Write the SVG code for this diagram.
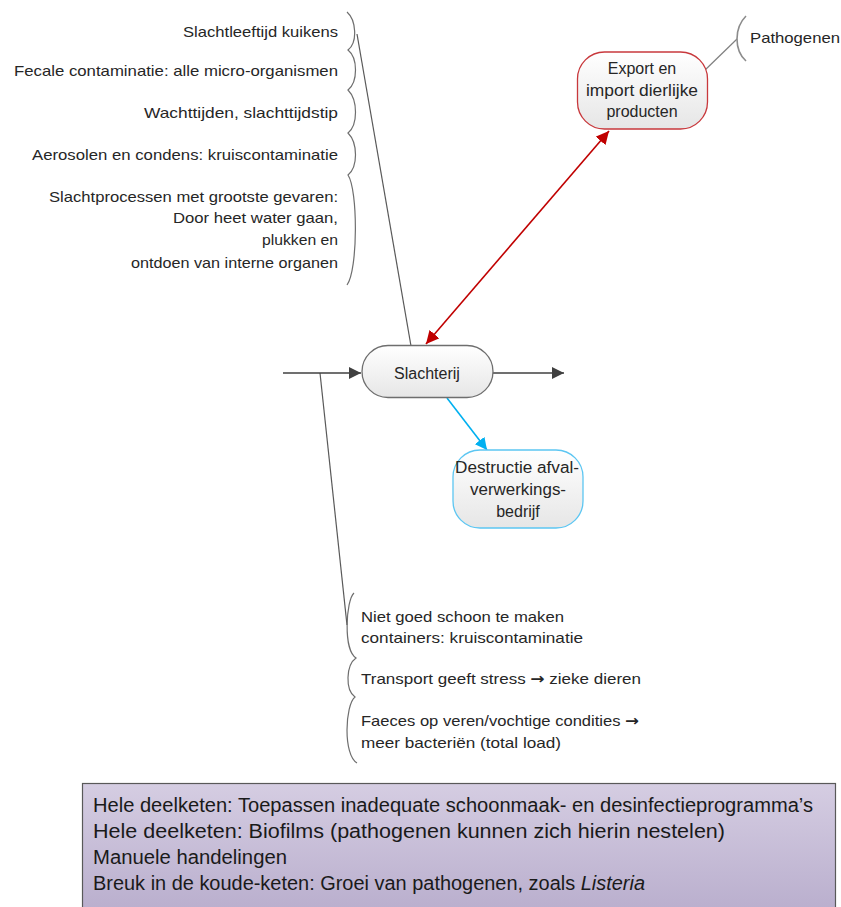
<svg xmlns="http://www.w3.org/2000/svg" width="841" height="907" viewBox="0 0 841 907">
  <defs>
    <linearGradient id="nodeFill" x1="0" y1="0" x2="0" y2="1">
      <stop offset="0" stop-color="#ffffff"/>
      <stop offset="1" stop-color="#e6e6e6"/>
    </linearGradient>
    <linearGradient id="boxFill" x1="0" y1="0" x2="0" y2="1">
      <stop offset="0" stop-color="#d5cde2"/>
      <stop offset="1" stop-color="#b9aecd"/>
    </linearGradient>
    <marker id="arrGray" viewBox="0 0 10 10" refX="10" refY="5" markerWidth="12" markerHeight="12" markerUnits="userSpaceOnUse" orient="auto">
      <path d="M0,0 L10,5 L0,10 Z" fill="#404040"/>
    </marker>
    <marker id="arrRed" viewBox="0 0 10 10" refX="10" refY="5" markerWidth="13" markerHeight="13" markerUnits="userSpaceOnUse" orient="auto-start-reverse">
      <path d="M0,0 L10,5 L0,10 Z" fill="#c00000"/>
    </marker>
    <marker id="arrBlue" viewBox="0 0 10 10" refX="10" refY="5" markerWidth="12" markerHeight="12" markerUnits="userSpaceOnUse" orient="auto">
      <path d="M0,0 L10,5 L0,10 Z" fill="#00b0f0"/>
    </marker>
  </defs>
  <style>
    text { font-family: "Liberation Sans", Arial, sans-serif; fill: #262626; }
    .lbl { font-size: 15px; }
    .node { font-size: 16px; text-anchor: middle; }
    .box { font-size: 19.5px; fill: #1a1a1a; }
    .arw { font-family: "DejaVu Sans", sans-serif; font-weight: bold; }
    .brace { fill: none; stroke: #6e6e6e; stroke-width: 1.2; }
    .link { fill: none; stroke: #595959; stroke-width: 1.2; }
  </style>

  <rect width="841" height="907" fill="#ffffff"/>

  <!-- connectors -->
  <g id="connectors">
    <line class="link" x1="357" y1="34" x2="411" y2="346"/>
    <line class="link" x1="320" y1="373" x2="347" y2="625"/>
    <line x1="703" y1="72" x2="737" y2="39" stroke="#7f7f7f" stroke-width="1.2"/>
    <line x1="283" y1="373" x2="361" y2="373" stroke="#404040" stroke-width="1.6" marker-end="url(#arrGray)"/>
    <line x1="493" y1="373" x2="564" y2="373" stroke="#404040" stroke-width="1.6" marker-end="url(#arrGray)"/>
    <line x1="609" y1="131" x2="426" y2="344" stroke="#c00000" stroke-width="1.6" marker-start="url(#arrRed)" marker-end="url(#arrRed)"/>
    <line x1="447" y1="398" x2="487" y2="450" stroke="#00b0f0" stroke-width="1.6" marker-end="url(#arrBlue)"/>
  </g>

  <!-- risk factors above the slaughterhouse -->
  <g id="risks-top">
    <path class="brace" d="M347,12 C356,20 358,42 348,50 C358,58 358,82 348,90 C358,100 358,125 348,133 C358,143 358,167 348,175 C358,190 358,270 347,285"/>
    <g class="lbl" text-anchor="end">
      <text x="338" y="37" textLength="155" lengthAdjust="spacingAndGlyphs">Slachtleeftijd kuikens</text>
      <text x="338" y="76" textLength="324" lengthAdjust="spacingAndGlyphs">Fecale contaminatie: alle micro-organismen</text>
      <text x="338" y="118" textLength="194" lengthAdjust="spacingAndGlyphs">Wachttijden, slachttijdstip</text>
      <text x="338" y="160" textLength="306" lengthAdjust="spacingAndGlyphs">Aerosolen en condens: kruiscontaminatie</text>
      <text x="338" y="202" textLength="289" lengthAdjust="spacingAndGlyphs">Slachtprocessen met grootste gevaren:</text>
      <text x="338" y="223" textLength="165" lengthAdjust="spacingAndGlyphs">Door heet water gaan,</text>
      <text x="338" y="245" textLength="76" lengthAdjust="spacingAndGlyphs">plukken en</text>
      <text x="338" y="268" textLength="207" lengthAdjust="spacingAndGlyphs">ontdoen van interne organen</text>
    </g>
  </g>

  <!-- risk factors on the incoming transport -->
  <g id="risks-transport">
    <path class="brace" d="M354,593 C346,600 343,650 356,658 C346,665 345,690 355,697 C345,705 343,755 357,763"/>
    <g class="lbl">
      <text x="361" y="622" textLength="203" lengthAdjust="spacingAndGlyphs">Niet goed schoon te maken</text>
      <text x="361" y="643" textLength="222" lengthAdjust="spacingAndGlyphs">containers: kruiscontaminatie</text>
      <text x="361" y="684" textLength="280" lengthAdjust="spacingAndGlyphs">Transport geeft stress <tspan class="arw">→</tspan> zieke dieren</text>
      <text x="361" y="726" textLength="278" lengthAdjust="spacingAndGlyphs">Faeces op veren/vochtige condities <tspan class="arw">→</tspan></text>
      <text x="361" y="748" textLength="200" lengthAdjust="spacingAndGlyphs">meer bacteriën (total load)</text>
    </g>
  </g>

  <g id="pathogenen">
    <path d="M746,16 C734,28 734,50 746,61" fill="none" stroke="#8c8c8c" stroke-width="1.6"/>
    <text class="lbl" x="750" y="43" textLength="90" lengthAdjust="spacingAndGlyphs">Pathogenen</text>
  </g>

  <g id="export-import">
    <rect x="577.5" y="52" width="130" height="77" rx="27" fill="url(#nodeFill)" stroke="#c8383c" stroke-width="1.3"/>
    <text class="node" x="642" y="74">Export en</text>
    <text class="node" x="642" y="96" textLength="112" lengthAdjust="spacingAndGlyphs">import dierlijke</text>
    <text class="node" x="642" y="117">producten</text>
  </g>

  <g id="slachterij">
    <rect x="362" y="345.5" width="131" height="52" rx="26" fill="url(#nodeFill)" stroke="#6e6e6e" stroke-width="1.3"/>
    <text class="node" x="427" y="379">Slachterij</text>
  </g>

  <g id="destructie">
    <rect x="453" y="450" width="130" height="78" rx="27" fill="url(#nodeFill)" stroke="#5cc6f2" stroke-width="1.3"/>
    <text class="node" x="517" y="473" textLength="124" lengthAdjust="spacingAndGlyphs">Destructie afval-</text>
    <text class="node" x="518" y="495" textLength="96" lengthAdjust="spacingAndGlyphs">verwerkings-</text>
    <text class="node" x="518" y="517">bedrijf</text>
  </g>

  <!-- general hazards across the whole chain -->
  <g id="general-hazards">
    <rect x="82.5" y="783.5" width="753" height="130" fill="url(#boxFill)" stroke="#595959" stroke-width="1.2"/>
    <text class="box" x="93" y="812" textLength="720" lengthAdjust="spacingAndGlyphs">Hele deelketen: Toepassen inadequate schoonmaak- en desinfectieprogramma’s</text>
    <text class="box" x="93" y="838" textLength="632" lengthAdjust="spacingAndGlyphs">Hele deelketen: Biofilms (pathogenen kunnen zich hierin nestelen)</text>
    <text class="box" x="93" y="864" textLength="194" lengthAdjust="spacingAndGlyphs">Manuele handelingen</text>
    <text class="box" x="93" y="890" textLength="552" lengthAdjust="spacingAndGlyphs">Breuk in de koude-keten: Groei van pathogenen, zoals <tspan font-style="italic">Listeria</tspan></text>
  </g>
</svg>
